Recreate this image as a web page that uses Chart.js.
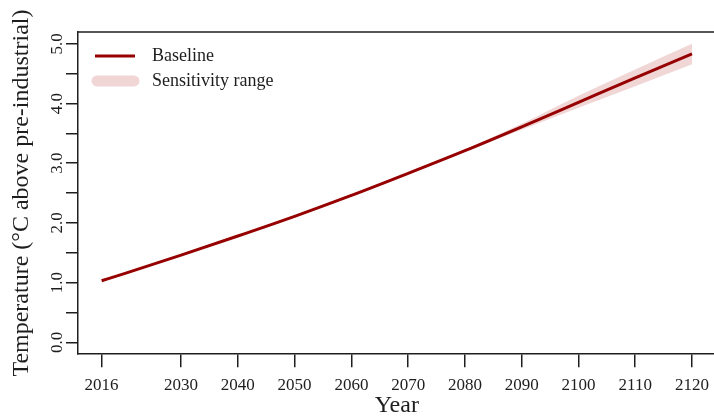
<!DOCTYPE html>
<html><head><meta charset="utf-8">
<script src="https://cdn.jsdelivr.net/npm/chart.js@4/dist/chart.umd.min.js"></script>
<style>
html,body{margin:0;padding:0;overflow:hidden;background:#fff;width:714px;height:416px}
#wrap{position:absolute;left:0;top:0;width:722px;height:430px}
</style>
</head><body><div id="wrap"><canvas id="c" width="722" height="430"></canvas></div>
<script>
// ---- data ----
const years    = [2016, 2020, 2030, 2040, 2050, 2060, 2070, 2080, 2090, 2100, 2110, 2120];
const baseline = [1.03, 1.15, 1.46, 1.78, 2.11, 2.46, 2.83, 3.21, 3.61, 4.02, 4.43, 4.83];
const upper    = [1.03, 1.15, 1.46, 1.78, 2.11, 2.46, 2.83, 3.23, 3.66, 4.13, 4.57, 5.00];
const lower    = [1.03, 1.15, 1.46, 1.78, 2.11, 2.46, 2.83, 3.19, 3.56, 3.93, 4.29, 4.66];
const xTickYears  = [2016, 2030, 2040, 2050, 2060, 2070, 2080, 2090, 2100, 2110, 2120];
const yTickValues = [0, 0.5, 1, 1.5, 2, 2.5, 3, 3.5, 4, 4.5, 5];
const yLabelValues = [0, 1, 2, 3, 4, 5];
const legendLabels = ['Baseline', 'Sensitivity range'];

// ---- styles ----
const FONT = "'Liberation Serif', 'Times New Roman', serif";
const AXIS = '#1e1e1e';
const LINE = '#960000';
const BAND = '#f1d6d6';

const toXY = ys => years.map((x, i) => ({x: x, y: ys[i]}));

const decor = {
  id: 'decor',
  afterDraw(chart) {
    const {ctx, chartArea: a} = chart;
    const ys = chart.scales.y;
    ctx.save();
    // top of box
    ctx.strokeStyle = AXIS; ctx.lineWidth = 1.5;
    ctx.beginPath(); ctx.moveTo(a.left, a.top); ctx.lineTo(a.right + 10, a.top); ctx.stroke();
    // rotated y tick labels
    ctx.fillStyle = AXIS;
    ctx.font = '17px ' + FONT;
    ctx.textAlign = 'center'; ctx.textBaseline = 'middle';
    yLabelValues.forEach(v => {
      const py = ys.getPixelForValue(v);
      ctx.save(); ctx.translate(a.left - 20, py); ctx.rotate(-Math.PI / 2);
      ctx.fillText(v.toFixed(1), 0, 0); ctx.restore();
    });
    // legend
    const lx = a.left, ly = a.top;
    ctx.lineCap = 'butt'; ctx.strokeStyle = LINE; ctx.lineWidth = 3;
    ctx.beginPath(); ctx.moveTo(lx + 17, ly + 24); ctx.lineTo(lx + 57, ly + 24); ctx.stroke();
    ctx.lineCap = 'round'; ctx.strokeStyle = BAND; ctx.lineWidth = 11;
    ctx.beginPath(); ctx.moveTo(lx + 19, ly + 49); ctx.lineTo(lx + 56, ly + 49); ctx.stroke();
    ctx.font = '18px ' + FONT; ctx.textAlign = 'left'; ctx.fillStyle = AXIS;
    ctx.fillText(legendLabels[0], lx + 74, ly + 24);
    ctx.fillText(legendLabels[1], lx + 74, ly + 49);
    ctx.restore();
  }
};

new Chart(document.getElementById('c'), {
  type: 'line',
  data: {
    datasets: [
      {label: legendLabels[0], data: toXY(baseline), borderColor: LINE, borderWidth: 3, pointRadius: 0,
       fill: false, cubicInterpolationMode: 'monotone', order: 0},
      {label: 'upper', data: toXY(upper), borderWidth: 0, borderColor: 'rgba(0,0,0,0)', backgroundColor: BAND,
       pointRadius: 0, fill: '+1', cubicInterpolationMode: 'monotone', order: 1},
      {label: 'lower', data: toXY(lower), borderWidth: 0, borderColor: 'rgba(0,0,0,0)', backgroundColor: BAND,
       pointRadius: 0, fill: false, cubicInterpolationMode: 'monotone', order: 2}
    ]
  },
  options: {
    responsive: false, animation: false, devicePixelRatio: 1,
    layout: {padding: {top: 31.9, right: 6.4, left: 0, bottom: 0}},
    plugins: {legend: {display: false}, tooltip: {enabled: false}},
    scales: {
      x: {
        type: 'linear', min: 2011.84, max: 2124.16,
        afterBuildTicks: s => { s.ticks = xTickYears.map(v => ({value: v})); },
        afterFit: s => { s.height = 75.8; },
        grid: {drawOnChartArea: false, drawTicks: true, tickLength: 13, color: AXIS, lineWidth: 1.5},
        border: {display: true, color: AXIS, width: 1.5},
        ticks: {font: {family: FONT, size: 17}, color: AXIS, padding: 8, maxRotation: 0, autoSkip: false,
                callback: v => String(v)},
        title: {display: true, text: 'Year', font: {family: FONT, size: 24}, color: AXIS,
                padding: {top: 0, bottom: 9.6}}
      },
      y: {
        min: -0.2, max: 5.2,
        afterBuildTicks: s => { s.ticks = yTickValues.map(v => ({value: v})); },
        afterFit: s => { s.width = 78; },
        grid: {drawOnChartArea: false, drawTicks: true, tickLength: 12, color: AXIS, lineWidth: 1.5},
        border: {display: true, color: AXIS, width: 1.5},
        ticks: {display: false},
        title: {display: true, text: 'Temperature (°C above pre-industrial)', font: {family: FONT, size: 24},
                color: AXIS, padding: {top: 7, bottom: 0}}
      }
    }
  },
  plugins: [decor]
});
</script>
</body></html>
